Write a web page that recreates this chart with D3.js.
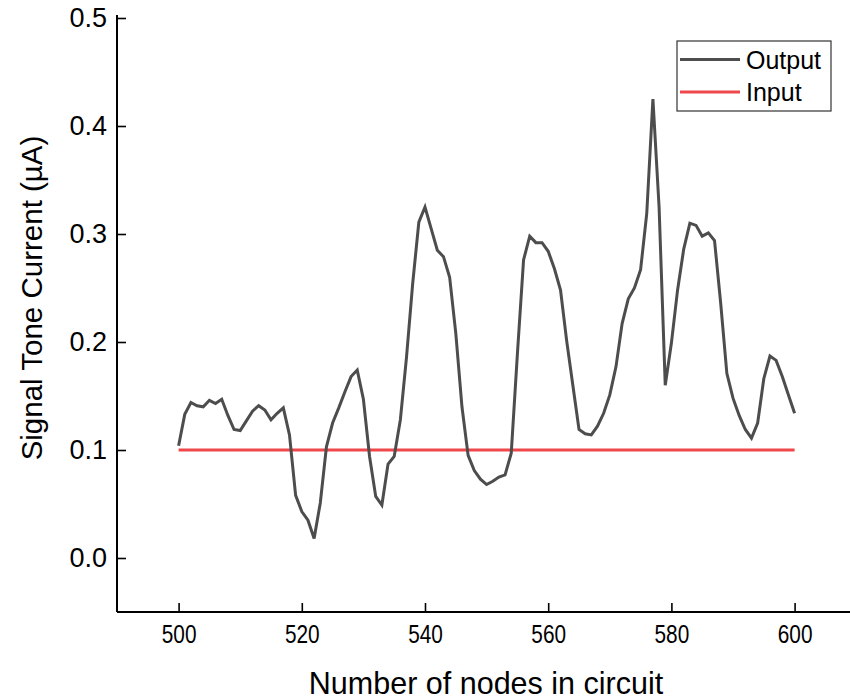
<!DOCTYPE html>
<html>
<head>
<meta charset="utf-8">
<script src="https://cdn.jsdelivr.net/npm/d3@7"></script>
<style>
  html, body { margin: 0; padding: 0; background: #fff; }
  svg { display: block; font-family: "Liberation Sans", Arial, sans-serif; }
</style>
</head>
<body>
<svg id="chart" width="850" height="699"></svg>
<script>
// Signal tone current along the circuit, node 500 to 600
const nodes = d3.range(500, 601);
const outputCurrent = [
  0.104, 0.133, 0.144, 0.141, 0.140, 0.146, 0.143, 0.147, 0.132, 0.119,
  0.118, 0.127, 0.136, 0.141, 0.137, 0.128, 0.134, 0.139, 0.114, 0.058,
  0.043, 0.035, 0.018, 0.051, 0.103, 0.125, 0.139, 0.154, 0.168, 0.174,
  0.147, 0.094, 0.057, 0.049, 0.087, 0.094, 0.128, 0.186, 0.254, 0.311,
  0.325, 0.305, 0.285, 0.279, 0.260, 0.208, 0.140, 0.095, 0.081, 0.073,
  0.068, 0.071, 0.075, 0.077, 0.097, 0.189, 0.276, 0.298, 0.292, 0.292,
  0.284, 0.268, 0.248, 0.201, 0.160, 0.119, 0.115, 0.114, 0.122, 0.134,
  0.151, 0.177, 0.217, 0.240, 0.250, 0.267, 0.319, 0.425, 0.325, 0.160,
  0.199, 0.248, 0.286, 0.310, 0.308, 0.298, 0.301, 0.294, 0.236, 0.171,
  0.148, 0.132, 0.119, 0.111, 0.125, 0.166, 0.187, 0.183, 0.168, 0.151,
  0.134
];
const inputNodes = [500, 600];
const inputCurrent = [0.1, 0.1];

const xMajorTicks = [500, 520, 540, 560, 580, 600];
const xMinorTicks = [490, 510, 530, 550, 570, 590];
const yMajorTicks = [0.0, 0.1, 0.2, 0.3, 0.4, 0.5];
const yMinorTicks = [-0.05, 0.05, 0.15, 0.25, 0.35, 0.45];

const seriesNames = ["Output", "Input"];
const seriesColors = ["#4d4d4d", "#f0474a"];

const svg = d3.select("#chart");

const x = d3.scaleLinear().domain([490, 610]).range([117, 856.2]);
const y = d3.scaleLinear().domain([-0.05, 0.5]).range([612, 18]);

// axes with inward ticks
const gx = svg.append("g").attr("transform", `translate(0,${y(-0.05)})`);
gx.call(d3.axisBottom(x).tickValues(xMinorTicks).tickSize(-4.5).tickFormat(""));
gx.call(d3.axisBottom(x).tickValues(xMajorTicks).tickSizeInner(-9).tickSizeOuter(0)
  .tickPadding(14).tickFormat(d3.format("d")));
gx.selectAll(".domain").attr("stroke-width", 2).attr("d", `M${x(490)},0H850`);
gx.selectAll(".tick line").attr("stroke-width", 1.6);
// condensed tick labels, centred on their ticks
gx.selectAll(".tick text")
  .attr("font-size", 26)
  .attr("fill", "#000")
  .attr("y", 13)
  .attr("transform", "scale(0.8,1)");

const gy = svg.append("g").attr("transform", `translate(${x(490)},0)`);
gy.call(d3.axisLeft(y).tickValues(yMinorTicks).tickSize(-4.5).tickFormat(""));
gy.call(d3.axisLeft(y).tickValues(yMajorTicks).tickSizeInner(-9).tickSizeOuter(0)
  .tickPadding(10).tickFormat(d3.format(".1f")));
gy.selectAll(".domain").attr("stroke-width", 2).attr("d", `M0,15V${y(-0.05)}`);
gy.selectAll(".tick line").attr("stroke-width", 1.6);
gy.selectAll(".tick text").attr("font-size", 27).attr("fill", "#000");

// axis titles
svg.append("text")
  .attr("x", 486).attr("y", 694)
  .attr("text-anchor", "middle")
  .attr("font-size", 30.5)
  .attr("fill", "#000")
  .text("Number of nodes in circuit");

svg.append("text")
  .attr("transform", "translate(42,298) rotate(-90)")
  .attr("text-anchor", "middle")
  .attr("font-size", 29.5)
  .attr("fill", "#000")
  .text("Signal Tone Current (µA)");

// series
const line = d3.line().x(d => x(d[0])).y(d => y(d[1]));

svg.append("path")
  .datum(d3.zip(inputNodes, inputCurrent))
  .attr("fill", "none")
  .attr("stroke", seriesColors[1])
  .attr("stroke-width", 3)
  .attr("d", line);

svg.append("path")
  .datum(d3.zip(nodes, outputCurrent))
  .attr("fill", "none")
  .attr("stroke", seriesColors[0])
  .attr("stroke-width", 3)
  .attr("stroke-linejoin", "miter")
  .attr("d", line);

// legend
const legend = svg.append("g").attr("transform", "translate(677,41)");
legend.append("rect")
  .attr("width", 154).attr("height", 70)
  .attr("fill", "#fff").attr("stroke", "#333").attr("stroke-width", 1.2);
seriesNames.forEach((name, i) => {
  const ly = 18.5 + i * 32.5;
  legend.append("line")
    .attr("x1", 3).attr("x2", 63).attr("y1", ly).attr("y2", ly)
    .attr("stroke", seriesColors[i]).attr("stroke-width", 3);
  legend.append("text")
    .attr("x", 69).attr("y", ly + 9)
    .attr("font-size", 25).attr("fill", "#000")
    .text(name);
});
</script>
</body>
</html>
